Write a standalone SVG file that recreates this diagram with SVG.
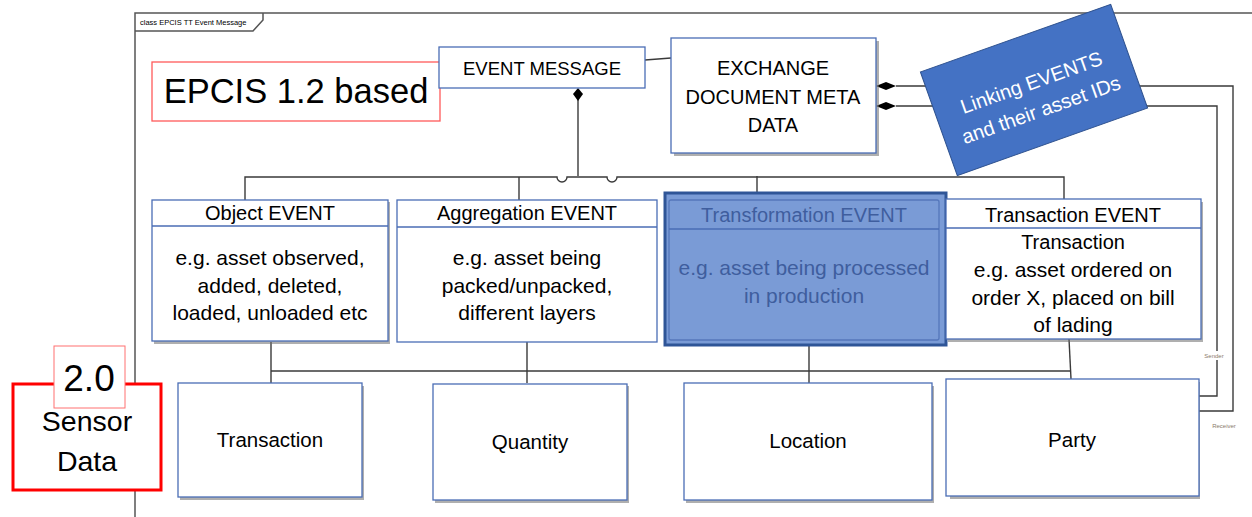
<svg xmlns="http://www.w3.org/2000/svg" width="1252" height="517" viewBox="0 0 1252 517">
<style>
text{font-family:"Liberation Sans",Arial,sans-serif;fill:#000}
.box{fill:#fff;stroke:#4a6db5;stroke-width:1.3}
.sh{fill:#6d6d6d;opacity:.55}
.ln{fill:none;stroke:#3a3a3a;stroke-width:1.4}
.t20{font-size:20px;text-anchor:middle}
.t21{font-size:21px;text-anchor:middle}
.frame{fill:none;stroke:#555;stroke-width:1.5}
.tiny{font-size:6px;fill:#8a7b6b;text-anchor:middle}
</style>
<g id="frame">
<path class="frame" d="M135,517 V13 H1252"/>
<path class="frame" d="M135,31 H253 L263,20 V13"/>
<text x="140" y="25" style="font-size:7.5px">class EPCIS TT Event Message</text>
</g>
<g id="connectors">
<path class="ln" d="M645,60 L671,58"/>
<path class="ln" d="M578,96 V176"/>
<path class="ln" d="M245,200 V177 H557 a5,5 0 0 0 10,0 H607 a5,5 0 0 0 10,0 H1064 V199"/>
<path class="ln" d="M519,177 V200"/>
<path class="ln" d="M757,176 V193"/>
<path class="ln" d="M271,342 V383"/>
<path class="ln" d="M271,371 H1070"/>
<path class="ln" d="M527,342 V383"/>
<path class="ln" d="M809,345 V383"/>
<path class="ln" d="M1069,339 L1071,379"/>
<path class="ln" d="M896,86 H1233 V411 H1199"/>
<path class="ln" d="M896,106 H1217 V396 H1199"/>
<path d="M578,88 L583,94 L578,101 L573,94 Z" fill="#000"/>
<path d="M876,86 L886,82 L896,86 L886,90 Z" fill="#000"/>
<path d="M876,106 L886,102 L896,106 L886,110 Z" fill="#000"/>
<rect x="1200" y="351" width="28" height="9" fill="#fff"/>
<text class="tiny" x="1214" y="358">Sender</text>
<text class="tiny" x="1224" y="428">Receiver</text>
</g>
<g id="epcis">
<rect x="152" y="62" width="288" height="59" fill="#fff" stroke="#ff5a5a" stroke-width="1.3"/>
<text x="296" y="103" style="font-size:34.5px;text-anchor:middle">EPCIS 1.2 based</text>
</g>
<g id="event-message">
<rect class="box" x="439" y="47" width="206" height="41"/>
<text x="542" y="75" style="font-size:18.5px;text-anchor:middle">EVENT MESSAGE</text>
</g>
<g id="exchange">
<rect class="sh" x="674" y="41" width="205" height="115"/>
<rect class="box" x="671" y="38" width="205" height="115"/>
<text class="t20" x="773" y="75">EXCHANGE</text>
<text class="t20" x="773" y="104">DOCUMENT META</text>
<text class="t20" x="773" y="132">DATA</text>
</g>
<g id="linking">
<g transform="translate(1034,90) rotate(-19.6)">
<rect x="-101" y="-55" width="202" height="110" fill="#4472c4" stroke="#2f528f" stroke-width="1"/>
<text x="0" y="-1" style="font-size:20px;text-anchor:middle;fill:#fff">Linking EVENTS</text>
<text x="0" y="28" style="font-size:20px;text-anchor:middle;fill:#fff">and their asset IDs</text>
</g>
</g>
<g id="object-event">
<rect class="sh" x="154" y="202" width="236" height="142"/>
<rect class="box" x="152" y="200" width="236" height="141"/>
<line x1="152" y1="226" x2="388" y2="226" stroke="#4a6db5" stroke-width="1.5"/>
<text class="t20" x="270" y="220">Object EVENT</text>
<text class="t21" x="270" y="265">e.g. asset observed,</text>
<text class="t21" x="270" y="293">added, deleted,</text>
<text class="t21" x="270" y="320">loaded, unloaded etc</text>
</g>
<g id="aggregation-event">
<rect class="box" x="397" y="200" width="260" height="142"/>
<line x1="397" y1="227" x2="657" y2="227" stroke="#4a6db5" stroke-width="1.3"/>
<text class="t20" x="527" y="220">Aggregation EVENT</text>
<text class="t21" x="527" y="265">e.g. asset being</text>
<text class="t21" x="527" y="293">packed/unpacked,</text>
<text class="t21" x="527" y="320">different layers</text>
</g>
<g id="transformation-event">
<rect x="665" y="193" width="281" height="152" fill="#7a9bd6" stroke="#2f5597" stroke-width="3"/>
<rect x="669" y="200" width="270" height="140" rx="2" fill="none" stroke="#5577bb" stroke-width="1.3"/>
<line x1="669" y1="229" x2="939" y2="229" stroke="#4a6db5" stroke-width="1.3"/>
<text class="t20" x="804" y="222" style="fill:#3f5e9e">Transformation EVENT</text>
<text class="t21" x="804" y="275" style="fill:#3f5e9e">e.g. asset being processed</text>
<text class="t21" x="804" y="303" style="fill:#3f5e9e">in production</text>
</g>
<g id="transaction-event">
<rect class="sh" x="948" y="202" width="255" height="140"/>
<rect class="box" x="946" y="199" width="255" height="140"/>
<line x1="946" y1="228" x2="1201" y2="228" stroke="#4a6db5" stroke-width="1.3"/>
<text class="t20" x="1073" y="222">Transaction EVENT</text>
<text class="t20" x="1073" y="249">Transaction</text>
<text class="t21" x="1073" y="277">e.g. asset ordered on</text>
<text class="t21" x="1073" y="305">order X, placed on bill</text>
<text class="t21" x="1073" y="332">of lading</text>
</g>
<g id="transaction">
<rect class="sh" x="180" y="386" width="184" height="114"/>
<rect class="box" x="178" y="383" width="184" height="114"/>
<text x="270" y="447" style="font-size:20.5px;text-anchor:middle">Transaction</text>
</g>
<g id="quantity">
<rect class="sh" x="435" y="386" width="194" height="117"/>
<rect class="box" x="433" y="384" width="194" height="116"/>
<text x="530" y="449" style="font-size:20.5px;text-anchor:middle">Quantity</text>
</g>
<g id="location">
<rect class="sh" x="686" y="386" width="248" height="117"/>
<rect class="box" x="684" y="383" width="248" height="117"/>
<text x="808" y="448" style="font-size:20.5px;text-anchor:middle">Location</text>
</g>
<g id="party">
<rect class="sh" x="950" y="382" width="250" height="117"/>
<rect class="box" x="946" y="379" width="253" height="117"/>
<text x="1072" y="447" style="font-size:20.5px;text-anchor:middle">Party</text>
</g>
<g id="sensor-data">
<rect x="13" y="384" width="148" height="106" fill="#fff" stroke="#ff0000" stroke-width="3"/>
<rect x="54" y="346" width="71" height="62" fill="#fff" stroke="#ff7070" stroke-width="1"/>
<text x="89" y="391" style="font-size:37px;text-anchor:middle">2.0</text>
<text x="87" y="431" style="font-size:28.5px;text-anchor:middle">Sensor</text>
<text x="87" y="471" style="font-size:28.5px;text-anchor:middle">Data</text>
</g>
</svg>
